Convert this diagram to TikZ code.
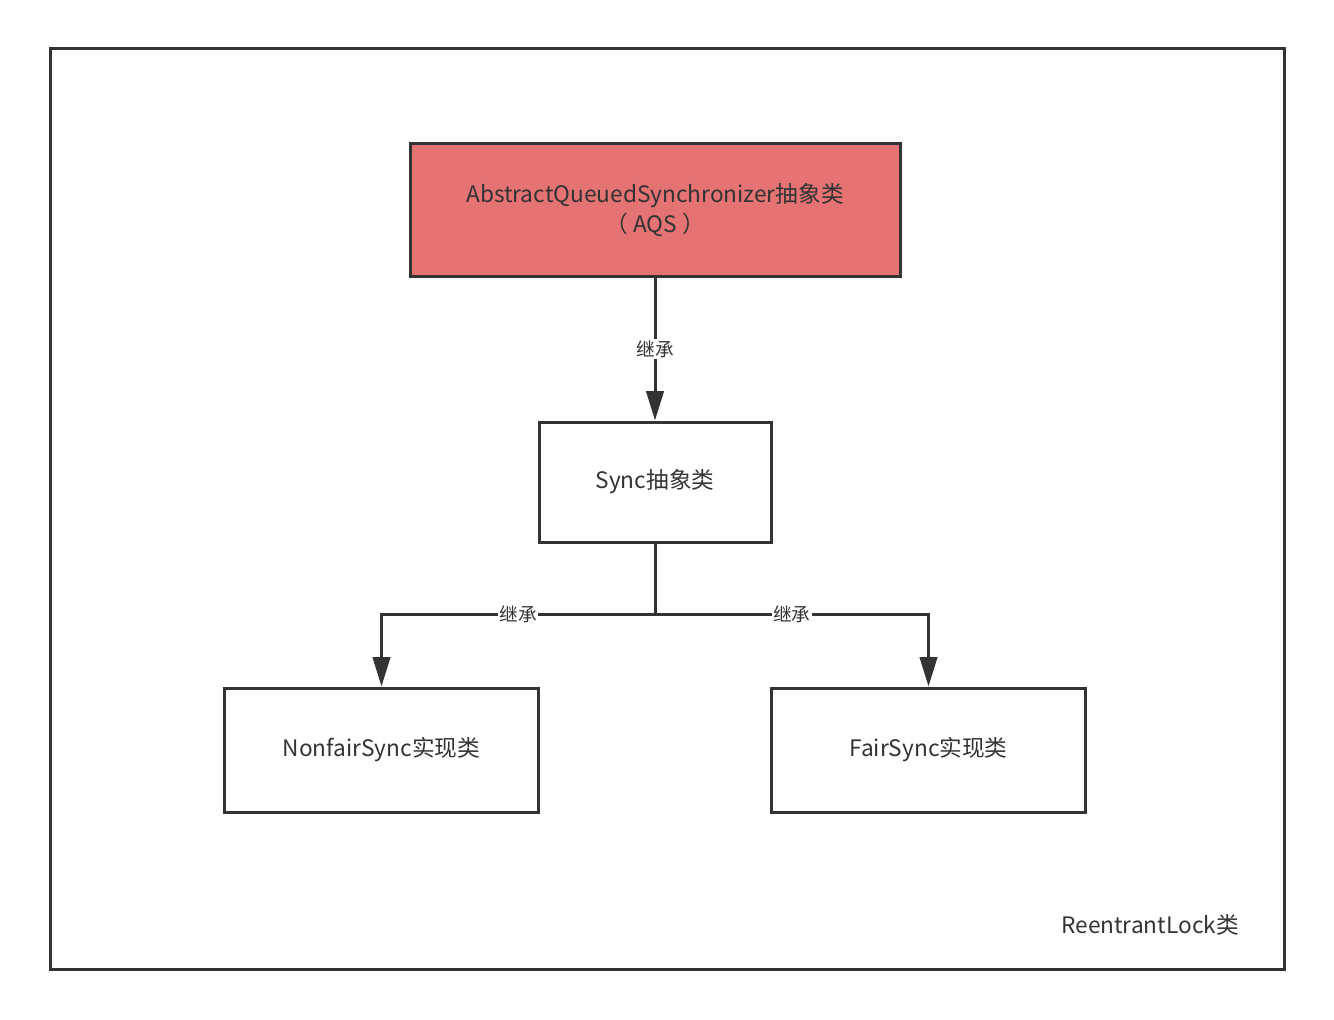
\documentclass[tikz,border=0pt]{standalone}
\usepackage{fontspec}
\setmainfont{Noto Sans CJK SC}
\usetikzlibrary{arrows.meta}
\definecolor{aqsred}{RGB}{229,115,115}
\definecolor{edge}{RGB}{51,51,51}
\tikzset{every picture/.style={line width=2.25pt}}
\tikzset{
  classbox/.style={draw=edge,rectangle,minimum height=#1,align=center,inner sep=0pt,font=\fontsize{17}{22}\selectfont,text=edge},
  inherit/.style={draw=edge,-{Triangle[length=22pt,width=13pt]}},
  arrowlabel/.style={fill=white,inner sep=1pt,font=\fontsize{14}{16}\selectfont,text=edge}
}

\begin{document}
\begin{tikzpicture}[x=0.75pt,y=0.75pt,yscale=-1,xscale=1]
\useasboundingbox (0,0) rectangle (1334,1020);

%Shape: Rectangle [outer frame]
\draw [edge]  (50,49) rectangle (1284,969) ;

% Class boxes
\node [classbox=99pt,fill=aqsred,minimum width=367.5pt] (aqs) at (655,210) {AbstractQueuedSynchronizer抽象类\\（ AQS ）};
\node [classbox=90pt,minimum width=174pt] (sync) at (655,482) {Sync抽象类};
\node [classbox=93pt,minimum width=236pt] (nonfair) at (381.5,750) {NonfairSync实现类};
\node [classbox=93pt,minimum width=236pt] (fair) at (928.5,750) {FairSync实现类};

%Straight Lines
\coordinate (split) at (655,614);
\draw [inherit] (aqs) -- (sync) node [arrowlabel,pos=0.5] {继承};
\draw [edge] (sync) -- (split);
\draw [inherit] (split) -- (nonfair.north |- split) node [arrowlabel,pos=0.5] {继承} -- (nonfair.north);
\draw [inherit] (split) -- (fair.north |- split) node [arrowlabel,pos=0.5] {继承} -- (fair.north);

% Text Node
\node [font=\fontsize{17}{22}\selectfont,text=edge] (lockname) at (1150,925) {ReentrantLock类};

\end{tikzpicture}
\end{document}
